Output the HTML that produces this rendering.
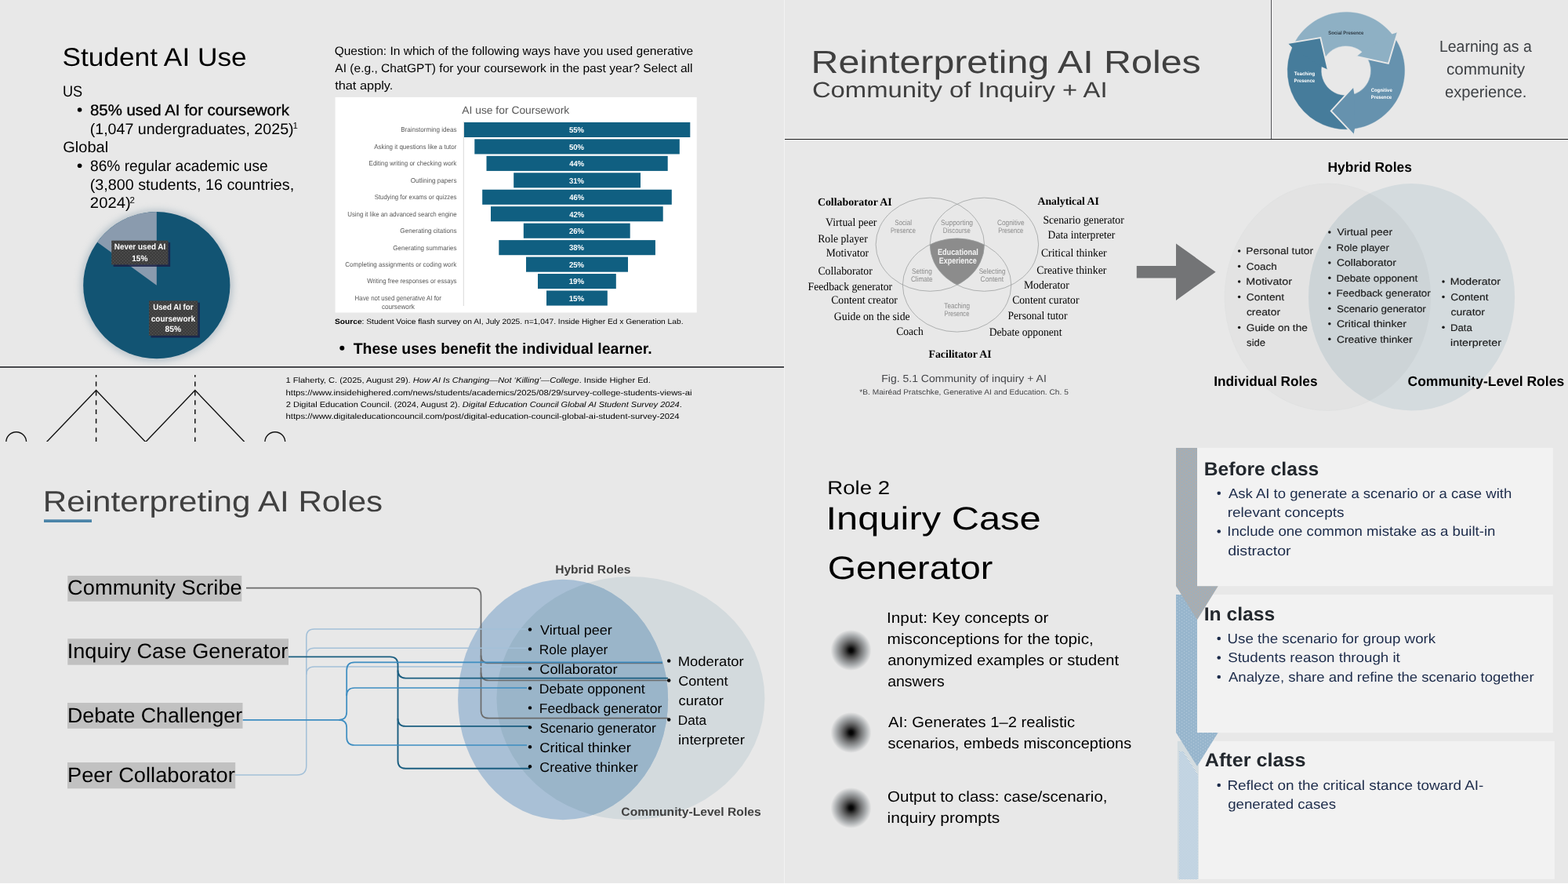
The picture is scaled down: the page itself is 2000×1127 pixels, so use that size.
<!DOCTYPE html>
<html lang="en">
<head>
<meta charset="utf-8">
<title>Reinterpreting AI Roles</title>
<style>
html,body{margin:0;padding:0;background:#fff;}
body{width:2000px;height:1127px;overflow:hidden;}
svg{display:block;will-change:transform;}
text{font-family:"Liberation Sans",sans-serif;white-space:pre;text-rendering:geometricPrecision;}
.serif{font-family:"Liberation Serif",serif;}
.b{font-weight:700;}
.i{font-style:italic;}
</style>
</head>
<body>
<svg width="2000" height="1127" viewBox="0 0 2000 1127">
<defs>
<filter id="pieshadow" x="-20%" y="-20%" width="140%" height="140%"><feGaussianBlur stdDeviation="4"/></filter>
<radialGradient id="dot" cx="50%" cy="50%" r="50%"><stop offset="0" stop-color="#000"/><stop offset="0.1" stop-color="#080808"/><stop offset="0.3" stop-color="#454545"/><stop offset="0.5" stop-color="#777879"/><stop offset="0.75" stop-color="#adb0b2"/><stop offset="1" stop-color="#e8e8e8"/></radialGradient>
<pattern id="dots1" patternUnits="userSpaceOnUse" width="6" height="4"><rect width="6" height="4" fill="#a8adb1"/><rect x="1" y="0" width="1" height="1" fill="#8fb1cb"/><rect x="4" y="2" width="1" height="1" fill="#8fb1cb"/></pattern>
<pattern id="dots2" patternUnits="userSpaceOnUse" width="6" height="4"><rect width="6" height="4" fill="#98b6cd"/><rect x="1" y="0" width="1" height="1" fill="#b4cadb"/><rect x="4" y="2" width="1" height="1" fill="#b4cadb"/></pattern>
<pattern id="chk" patternUnits="userSpaceOnUse" width="2" height="2"><rect width="2" height="2" fill="#f1f3f4"/><rect x="0" y="0" width="1" height="1" fill="#94b5d0"/><rect x="1" y="1" width="1" height="1" fill="#94b5d0"/></pattern>
<pattern id="lbl" patternUnits="userSpaceOnUse" width="4" height="4"><rect width="4" height="4" fill="#3f3f3f"/><rect x="0" y="0" width="1" height="1" fill="#595959"/><rect x="2" y="2" width="1" height="1" fill="#595959"/></pattern>
<clipPath id="clipL"><ellipse cx="1186.3" cy="311.7" rx="69.2" ry="59.6"/></clipPath>
<clipPath id="clipR"><ellipse cx="1255.4" cy="311.7" rx="69.2" ry="59.6"/></clipPath>
</defs>
<rect x="0" y="0" width="2000" height="1126" fill="#e8e8e8"/>
<rect x="1000" y="0" width="1" height="1126" fill="#f3f3f3"/>
<!-- s1 -->
<g id="s1">
<text x="79.4" y="84.2" font-size="32.8" textLength="235.37" lengthAdjust="spacingAndGlyphs" fill="#000">Student AI Use</text>
<text x="79.9" y="123.3" font-size="19.5" textLength="25.24" lengthAdjust="spacingAndGlyphs" fill="#000">US</text>
<circle cx="101.6" cy="140" r="2.8" fill="#000"/>
<text x="115.01" y="147" font-size="19.5" textLength="253.86" lengthAdjust="spacingAndGlyphs" fill="#000" stroke="#000" stroke-width="0.35">85% used AI for coursework</text>
<text x="114.68" y="170.7" font-size="19.5" textLength="259.94" lengthAdjust="spacingAndGlyphs" fill="#000">(1,047 undergraduates, 2025)</text>
<text x="373.42" y="163.6" font-size="11.5" fill="#000">1</text>
<text x="80.29" y="194.2" font-size="19.5" textLength="57.85" lengthAdjust="spacingAndGlyphs" fill="#000">Global</text>
<circle cx="101.6" cy="211.2" r="2.8" fill="#000"/>
<text x="115.07" y="218" font-size="19.5" textLength="226.68" lengthAdjust="spacingAndGlyphs" fill="#000">86% regular academic use</text>
<text x="114.67" y="241.5" font-size="19.5" textLength="260.5" lengthAdjust="spacingAndGlyphs" fill="#000">(3,800 students, 16 countries,</text>
<text x="114.88" y="265" font-size="19.5" textLength="51.77" lengthAdjust="spacingAndGlyphs" fill="#000">2024)</text>
<text x="165.62" y="258.5" font-size="11.5" fill="#000">2</text>
<circle cx="199.8" cy="364.2" r="97.1" fill="#8fa3b0" opacity="0.5" filter="url(#pieshadow)"/>
<circle cx="199.8" cy="363.7" r="93.6" fill="#125473"/>
<path d="M199.8 363.7 L199.8 270.1 A93.6 93.6 0 0 0 124.08 308.68 Z" fill="#8a9bae"/>
<rect x="144.6" y="309.1" width="72.5" height="30.9" fill="#1b2146" opacity="0.85"/>
<rect x="142.2" y="306.7" width="72.3" height="30.7" fill="url(#lbl)" />
<text x="145.84" y="318.2" font-size="10.7" textLength="65.32" lengthAdjust="spacingAndGlyphs" font-weight="700" fill="#fff">Never used AI</text>
<text x="168.26" y="333.3" font-size="10.7" textLength="20.2" lengthAdjust="spacingAndGlyphs" font-weight="700" fill="#fff">15%</text>
<rect x="192.4" y="385.8" width="62.5" height="44.7" fill="#1b2146" opacity="0.85"/>
<rect x="190" y="383.4" width="62.3" height="44.5" fill="url(#lbl)" />
<text x="195.22" y="394.9" font-size="10.7" textLength="51.33" lengthAdjust="spacingAndGlyphs" font-weight="700" fill="#fff">Used AI for</text>
<text x="192.81" y="409.6" font-size="10.7" textLength="56.18" lengthAdjust="spacingAndGlyphs" font-weight="700" fill="#fff">coursework</text>
<text x="210.58" y="423.3" font-size="10.7" textLength="20.49" lengthAdjust="spacingAndGlyphs" font-weight="700" fill="#fff">85%</text>
<text x="426.66" y="70" font-size="15.1" textLength="457.43" lengthAdjust="spacingAndGlyphs" fill="#000">Question: In which of the following ways have you used generative</text>
<text x="427.37" y="92" font-size="15.1" textLength="456.07" lengthAdjust="spacingAndGlyphs" fill="#000">AI (e.g., ChatGPT) for your coursework in the past year? Select all</text>
<text x="427.15" y="114.2" font-size="15.1" textLength="74.24" lengthAdjust="spacingAndGlyphs" fill="#000">that apply.</text>
<rect x="427.6" y="123.9" width="461.1" height="274.6" fill="#fff" />
<text x="589.27" y="144.8" font-size="13.6" textLength="137.01" lengthAdjust="spacingAndGlyphs" fill="#595959">AI use for Coursework</text>
<line x1="591.3" y1="155" x2="591.3" y2="390" stroke="#d9d9d9" stroke-width="1" />
<rect x="592" y="155.9" width="288.3" height="19.1" fill="#105f81" />
<text x="726.01" y="169.2" font-size="10" textLength="19.04" lengthAdjust="spacingAndGlyphs" font-weight="700" fill="#fff">55%</text>
<text x="511.19" y="168.3" font-size="8.6" textLength="71.35" lengthAdjust="spacingAndGlyphs" fill="#595959">Brainstorming ideas</text>
<rect x="605.3" y="177.36" width="261.5" height="19.1" fill="#105f81" />
<text x="726.01" y="190.66" font-size="10" textLength="19.04" lengthAdjust="spacingAndGlyphs" font-weight="700" fill="#fff">50%</text>
<text x="477.13" y="189.76" font-size="8.6" textLength="105.25" lengthAdjust="spacingAndGlyphs" fill="#595959">Asking it questions like a tutor</text>
<rect x="620.5" y="198.82" width="231.2" height="19.1" fill="#105f81" />
<text x="726.16" y="212.12" font-size="10" textLength="18.89" lengthAdjust="spacingAndGlyphs" font-weight="700" fill="#fff">44%</text>
<text x="470.6" y="211.22" font-size="8.6" textLength="111.64" lengthAdjust="spacingAndGlyphs" fill="#595959">Editing writing or checking work</text>
<rect x="655.2" y="220.28" width="161.8" height="19.1" fill="#105f81" />
<text x="726.08" y="233.58" font-size="10" textLength="18.97" lengthAdjust="spacingAndGlyphs" font-weight="700" fill="#fff">31%</text>
<text x="523.67" y="232.68" font-size="8.6" textLength="58.88" lengthAdjust="spacingAndGlyphs" fill="#595959">Outlining papers</text>
<rect x="615.2" y="241.74" width="241.6" height="19.1" fill="#105f81" />
<text x="726.16" y="255.04" font-size="10" textLength="18.89" lengthAdjust="spacingAndGlyphs" font-weight="700" fill="#fff">46%</text>
<text x="477.69" y="254.14" font-size="8.6" textLength="104.84" lengthAdjust="spacingAndGlyphs" fill="#595959">Studying for exams or quizzes</text>
<rect x="626" y="263.2" width="219.7" height="19.1" fill="#105f81" />
<text x="726.16" y="276.5" font-size="10" textLength="18.89" lengthAdjust="spacingAndGlyphs" font-weight="700" fill="#fff">42%</text>
<text x="443.24" y="275.6" font-size="8.6" textLength="139.36" lengthAdjust="spacingAndGlyphs" fill="#595959">Using it like an advanced search engine</text>
<rect x="667.8" y="284.66" width="135.9" height="19.1" fill="#105f81" />
<text x="725.97" y="297.96" font-size="10" textLength="19.08" lengthAdjust="spacingAndGlyphs" font-weight="700" fill="#fff">26%</text>
<text x="510.34" y="297.06" font-size="8.6" textLength="72.2" lengthAdjust="spacingAndGlyphs" fill="#595959">Generating citations</text>
<rect x="636.3" y="306.12" width="199.6" height="19.1" fill="#105f81" />
<text x="726.08" y="319.42" font-size="10" textLength="18.97" lengthAdjust="spacingAndGlyphs" font-weight="700" fill="#fff">38%</text>
<text x="501.35" y="318.52" font-size="8.6" textLength="81.19" lengthAdjust="spacingAndGlyphs" fill="#595959">Generating summaries</text>
<rect x="671" y="327.58" width="130" height="19.1" fill="#105f81" />
<text x="725.97" y="340.88" font-size="10" textLength="19.08" lengthAdjust="spacingAndGlyphs" font-weight="700" fill="#fff">25%</text>
<text x="440.34" y="339.98" font-size="8.6" textLength="141.89" lengthAdjust="spacingAndGlyphs" fill="#595959">Completing assignments or coding work</text>
<rect x="686" y="349.04" width="99.8" height="19.1" fill="#105f81" />
<text x="725.69" y="362.34" font-size="10" textLength="19.36" lengthAdjust="spacingAndGlyphs" font-weight="700" fill="#fff">19%</text>
<text x="468.22" y="361.44" font-size="8.6" textLength="114.32" lengthAdjust="spacingAndGlyphs" fill="#595959">Writing free responses or essays</text>
<rect x="697" y="370.5" width="77.8" height="19.1" fill="#105f81" />
<text x="725.69" y="383.8" font-size="10" textLength="19.36" lengthAdjust="spacingAndGlyphs" font-weight="700" fill="#fff">15%</text>
<text x="452.6" y="382.8" font-size="8.8" textLength="110.28" lengthAdjust="spacingAndGlyphs" fill="#595959">Have not used generative AI for</text>
<text x="486.9" y="393.8" font-size="8.8" textLength="41.84" lengthAdjust="spacingAndGlyphs" fill="#595959">coursework</text>
<text x="426.94" y="413.4" font-size="9.4" textLength="444.6" lengthAdjust="spacingAndGlyphs" fill="#000"><tspan font-weight="700">Source</tspan>: Student Voice flash survey on AI, July 2025. n=1,047. Inside Higher Ed x Generation Lab.</text>
<circle cx="436.3" cy="443.7" r="3" fill="#000"/>
<text x="450.68" y="450.5" font-size="19.5" textLength="380.96" lengthAdjust="spacingAndGlyphs" font-weight="700" fill="#000">These uses benefit the individual learner.</text>
<rect x="0" y="466" width="1000" height="4" fill="#eeeeee" />
<rect x="0" y="467" width="1000" height="2" fill="#46474b" />
<clipPath id="s1clip"><rect x="0" y="0" width="1000" height="563"/></clipPath>
<g clip-path="url(#s1clip)"><path d="M58 565 L122.6 497.6 L185.7 563.5 L248.8 497.6 L313.4 565" fill="none" stroke="#111" stroke-width="1.4" stroke-linejoin="miter"/><line x1="122.6" y1="478" x2="122.6" y2="563" stroke="#111" stroke-width="1.5" stroke-dasharray="6 5.8" stroke-dashoffset="3.2"/><line x1="248.8" y1="478" x2="248.8" y2="563" stroke="#111" stroke-width="1.5" stroke-dasharray="6 5.8" stroke-dashoffset="3.2"/><circle cx="20.7" cy="563.6" r="12.9" fill="none" stroke="#111" stroke-width="1.4"/><circle cx="350.8" cy="563.6" r="12.9" fill="none" stroke="#111" stroke-width="1.4"/></g>
<text x="364.46" y="488.3" font-size="10" textLength="465.35" lengthAdjust="spacingAndGlyphs" fill="#000">1 Flaherty, C. (2025, August 29). <tspan class="i">How AI Is Changing—Not ‘Killing’—College</tspan>. Inside Higher Ed.</text>
<text x="364.52" y="503.7" font-size="10" textLength="518.04" lengthAdjust="spacingAndGlyphs" fill="#000">https://www.insidehighered.com/news/students/academics/2025/08/29/survey-college-students-views-ai</text>
<text x="364.75" y="519" font-size="10" textLength="505.06" lengthAdjust="spacingAndGlyphs" fill="#000">2 Digital Education Council. (2024, August 2). <tspan class="i">Digital Education Council Global AI Student Survey 2024</tspan>.</text>
<text x="364.52" y="534.4" font-size="10" textLength="502.12" lengthAdjust="spacingAndGlyphs" fill="#000">https://www.digitaleducationcouncil.com/post/digital-education-council-global-ai-student-survey-2024</text>
</g>
<!-- s2 -->
<g id="s2">
<text x="1034.53" y="93.3" font-size="40.8" textLength="497.21" lengthAdjust="spacingAndGlyphs" fill="#404040">Reinterpreting AI Roles</text>
<text x="1035.93" y="123.7" font-size="27.9" textLength="376.59" lengthAdjust="spacingAndGlyphs" fill="#404040">Community of Inquiry + AI</text>
<rect x="1001" y="176" width="999" height="1" fill="#f8f8f8" />
<rect x="1001" y="178" width="999" height="1" fill="#e3e4e6" />
<rect x="1620" y="0" width="3" height="176" fill="#f0f0f0" />
<rect x="1001" y="177" width="999" height="1" fill="#1a1a1a" />
<rect x="1621" y="0" width="1" height="177" fill="#4e4e53" />
<path d="M1648.91 59.19 A74.7 74.7 0 0 1 1776.32 44.83 L1738.67 67.06 A31.7 31.7 0 0 0 1685.88 83.58 Z" fill="#8eb0c4" stroke="#8eb0c4" stroke-width="0.4"/>
<path d="M1776.32 44.83 A74.7 74.7 0 0 1 1726.40 164.19 L1725.97 120.48 A31.7 31.7 0 0 0 1738.67 67.06 Z" fill="#6692ae" stroke="#6692ae" stroke-width="0.4"/>
<path d="M1726.40 164.19 A74.7 74.7 0 0 1 1648.91 59.19 L1685.88 83.58 A31.7 31.7 0 0 0 1725.97 120.48 Z" fill="#467c9b" stroke="#467c9b" stroke-width="0.4"/>
<path d="M1782.80 41.00 L1770.90 81.00 L1730.30 72.00 L1737.92 65.76 L1775.56 43.53 Z" fill="#8eb0c4"/>
<path d="M1782.80 41.00 L1770.90 81.00 L1730.30 72.00" fill="none" stroke="#e8e8e8" stroke-width="1.9" stroke-linejoin="miter" stroke-linecap="butt"/>
<path d="M1726.47 171.72 L1697.78 141.42 L1725.88 110.75 L1727.47 120.47 L1727.90 164.18 Z" fill="#6692ae"/>
<path d="M1726.47 171.72 L1697.78 141.42 L1725.88 110.75" fill="none" stroke="#e8e8e8" stroke-width="1.9" stroke-linejoin="miter" stroke-linecap="butt"/>
<path d="M1642.70 55.10 L1684.30 48.00 L1693.80 88.80 L1685.04 84.82 L1648.07 60.44 Z" fill="#467c9b"/>
<path d="M1642.70 55.10 L1684.30 48.00 L1693.80 88.80" fill="none" stroke="#e8e8e8" stroke-width="1.9" stroke-linejoin="miter" stroke-linecap="butt"/>
<text x="1694.33" y="43.7" font-size="6.4" textLength="44.97" lengthAdjust="spacingAndGlyphs" font-weight="700" fill="#2d3943">Social Presence</text>
<text x="1650.83" y="95.6" font-size="6.4" textLength="26.48" lengthAdjust="spacingAndGlyphs" font-weight="700" fill="#fff">Teaching</text>
<text x="1650.5" y="104.7" font-size="6.4" textLength="26.6" lengthAdjust="spacingAndGlyphs" font-weight="700" fill="#fff">Presence</text>
<text x="1748.66" y="116.9" font-size="6.4" textLength="27.05" lengthAdjust="spacingAndGlyphs" font-weight="700" fill="#fff">Cognitive</text>
<text x="1748.81" y="126.2" font-size="6.4" textLength="26.2" lengthAdjust="spacingAndGlyphs" font-weight="700" fill="#fff">Presence</text>
<text x="1836.01" y="65.6" font-size="20.4" textLength="117.79" lengthAdjust="spacingAndGlyphs" fill="#3d4044">Learning as a</text>
<text x="1845.02" y="94.5" font-size="20.4" textLength="100.02" lengthAdjust="spacingAndGlyphs" fill="#3d4044">community</text>
<text x="1843.04" y="123.5" font-size="20.4" textLength="104.3" lengthAdjust="spacingAndGlyphs" fill="#3d4044">experience.</text>
<g clip-path="url(#clipL)"><g clip-path="url(#clipR)"><ellipse cx="1220.6" cy="363.5" rx="69.2" ry="59.6" fill="#8c8c8c"/></g></g>
<ellipse cx="1186.3" cy="311.7" rx="69.2" ry="59.6" fill="none" stroke="#9a9c9c" stroke-width="0.75"/>
<ellipse cx="1255.4" cy="311.7" rx="69.2" ry="59.6" fill="none" stroke="#9a9c9c" stroke-width="0.75"/>
<ellipse cx="1220.6" cy="363.5" rx="69.2" ry="59.6" fill="none" stroke="#9a9c9c" stroke-width="0.75"/>
<text x="1141.13" y="286.9" font-size="9.6" textLength="21.9" lengthAdjust="spacingAndGlyphs" fill="#8c8c8c">Social</text>
<text x="1135.88" y="296.9" font-size="9.6" textLength="31.96" lengthAdjust="spacingAndGlyphs" fill="#8c8c8c">Presence</text>
<text x="1200.12" y="286.9" font-size="9.6" textLength="40.93" lengthAdjust="spacingAndGlyphs" fill="#8c8c8c">Supporting</text>
<text x="1202.85" y="296.9" font-size="9.6" textLength="35" lengthAdjust="spacingAndGlyphs" fill="#8c8c8c">Discourse</text>
<text x="1271.88" y="286.9" font-size="9.6" textLength="34.79" lengthAdjust="spacingAndGlyphs" fill="#8c8c8c">Cognitive</text>
<text x="1273.18" y="296.9" font-size="9.6" textLength="31.96" lengthAdjust="spacingAndGlyphs" fill="#8c8c8c">Presence</text>
<text x="1162.92" y="348.6" font-size="9.6" textLength="25.91" lengthAdjust="spacingAndGlyphs" fill="#8c8c8c">Setting</text>
<text x="1161.88" y="358.6" font-size="9.6" textLength="27.78" lengthAdjust="spacingAndGlyphs" fill="#8c8c8c">Climate</text>
<text x="1248.63" y="348.6" font-size="9.6" textLength="33.91" lengthAdjust="spacingAndGlyphs" fill="#8c8c8c">Selecting</text>
<text x="1250.57" y="358.6" font-size="9.6" textLength="29.49" lengthAdjust="spacingAndGlyphs" fill="#8c8c8c">Content</text>
<text x="1204.32" y="392.9" font-size="9.6" textLength="32.71" lengthAdjust="spacingAndGlyphs" fill="#8c8c8c">Teaching</text>
<text x="1204.38" y="403.4" font-size="9.6" textLength="31.96" lengthAdjust="spacingAndGlyphs" fill="#8c8c8c">Presence</text>
<text x="1195.89" y="324.9" font-size="11" textLength="51.96" lengthAdjust="spacingAndGlyphs" font-weight="700" fill="#f4f4f4">Educational</text>
<text x="1197.8" y="335.8" font-size="11" textLength="47.91" lengthAdjust="spacingAndGlyphs" font-weight="700" fill="#f4f4f4">Experience</text>
<text x="1042.92" y="261.7" font-size="14" textLength="94.74" lengthAdjust="spacingAndGlyphs" font-weight="700" fill="#000" class="serif">Collaborator AI</text>
<text x="1323.57" y="260.9" font-size="14" textLength="78.2" lengthAdjust="spacingAndGlyphs" font-weight="700" fill="#000" class="serif">Analytical AI</text>
<text x="1184.46" y="455.5" font-size="14" textLength="80.3" lengthAdjust="spacingAndGlyphs" font-weight="700" fill="#000" class="serif">Facilitator AI</text>
<text x="1053.05" y="287.9" font-size="14.5" textLength="65.28" lengthAdjust="spacingAndGlyphs" fill="#000" class="serif">Virtual peer</text>
<text x="1043.21" y="308.7" font-size="14.5" textLength="63.51" lengthAdjust="spacingAndGlyphs" fill="#000" class="serif">Role player</text>
<text x="1053.71" y="327.3" font-size="14.5" textLength="54.31" lengthAdjust="spacingAndGlyphs" fill="#000" class="serif">Motivator</text>
<text x="1043.44" y="350.4" font-size="14.5" textLength="69.38" lengthAdjust="spacingAndGlyphs" fill="#000" class="serif">Collaborator</text>
<text x="1030.61" y="369.6" font-size="14.5" textLength="107.51" lengthAdjust="spacingAndGlyphs" fill="#000" class="serif">Feedback generator</text>
<text x="1060.24" y="387" font-size="14.5" textLength="84.68" lengthAdjust="spacingAndGlyphs" fill="#000" class="serif">Content creator</text>
<text x="1063.83" y="407.8" font-size="14.5" textLength="96.84" lengthAdjust="spacingAndGlyphs" fill="#000" class="serif">Guide on the side</text>
<text x="1143.14" y="426.8" font-size="14.5" textLength="34.63" lengthAdjust="spacingAndGlyphs" fill="#000" class="serif">Coach</text>
<text x="1330.38" y="285.3" font-size="14.5" textLength="103.44" lengthAdjust="spacingAndGlyphs" fill="#000" class="serif">Scenario generator</text>
<text x="1336.61" y="303.9" font-size="14.5" textLength="85.71" lengthAdjust="spacingAndGlyphs" fill="#000" class="serif">Data interpreter</text>
<text x="1327.94" y="327.3" font-size="14.5" textLength="83.69" lengthAdjust="spacingAndGlyphs" fill="#000" class="serif">Critical thinker</text>
<text x="1322.24" y="348.6" font-size="14.5" textLength="89.09" lengthAdjust="spacingAndGlyphs" fill="#000" class="serif">Creative thinker</text>
<text x="1305.91" y="367.8" font-size="14.5" textLength="57.82" lengthAdjust="spacingAndGlyphs" fill="#000" class="serif">Moderator</text>
<text x="1291.14" y="387" font-size="14.5" textLength="85.38" lengthAdjust="spacingAndGlyphs" fill="#000" class="serif">Content curator</text>
<text x="1285.51" y="407.2" font-size="14.5" textLength="75.91" lengthAdjust="spacingAndGlyphs" fill="#000" class="serif">Personal tutor</text>
<text x="1261.71" y="427.8" font-size="14.5" textLength="92.77" lengthAdjust="spacingAndGlyphs" fill="#000" class="serif">Debate opponent</text>
<text x="1124.25" y="487.2" font-size="13.2" textLength="210.54" lengthAdjust="spacingAndGlyphs" fill="#45464a">Fig. 5.1 Community of inquiry + AI</text>
<text x="1096.34" y="503" font-size="9.6" textLength="266.49" lengthAdjust="spacingAndGlyphs" fill="#444548">*B. Mairéad Pratschke, Generative AI and Education. Ch. 5</text>
<path d="M1449.8 338.9 L1500 338.9 L1500 310.5 L1550.6 346.7 L1500 383 L1500 354.5 L1449.8 354.5 Z" fill="#737476"/>
<clipPath id="v2r"><ellipse cx="1800.6" cy="378.8" rx="131.5" ry="144.7"/></clipPath>
<ellipse cx="1693.6" cy="378.8" rx="131.5" ry="144.7" fill="#e3e3e3" stroke="#dedfdf" stroke-width="0.6"/>
<ellipse cx="1800.6" cy="378.8" rx="131.5" ry="144.7" fill="#d4dbde"/>
<ellipse cx="1693.6" cy="378.8" rx="131.5" ry="144.7" fill="#cdd4d7" clip-path="url(#v2r)"/>
<circle cx="1580.6" cy="320.1" r="1.75" fill="#1a1a1a"/>
<text x="1589.37" y="324.3" font-size="12.4" textLength="85.76" lengthAdjust="spacingAndGlyphs" fill="#1a1a1a" stroke="#1a1a1a" stroke-width="0.15">Personal tutor</text>
<circle cx="1580.6" cy="339.59" r="1.75" fill="#1a1a1a"/>
<text x="1589.82" y="343.79" font-size="12.4" textLength="38.96" lengthAdjust="spacingAndGlyphs" fill="#1a1a1a" stroke="#1a1a1a" stroke-width="0.15">Coach</text>
<circle cx="1580.6" cy="359.08" r="1.75" fill="#1a1a1a"/>
<text x="1589.33" y="363.28" font-size="12.4" textLength="58.71" lengthAdjust="spacingAndGlyphs" fill="#1a1a1a" stroke="#1a1a1a" stroke-width="0.15">Motivator</text>
<circle cx="1580.6" cy="378.57" r="1.75" fill="#1a1a1a"/>
<text x="1589.8" y="382.77" font-size="12.4" textLength="48.3" lengthAdjust="spacingAndGlyphs" fill="#1a1a1a" stroke="#1a1a1a" stroke-width="0.15">Content</text>
<text x="1589.91" y="402.26" font-size="12.4" textLength="43.12" lengthAdjust="spacingAndGlyphs" fill="#1a1a1a" stroke="#1a1a1a" stroke-width="0.15">creator</text>
<circle cx="1580.6" cy="417.55" r="1.75" fill="#1a1a1a"/>
<text x="1589.82" y="421.75" font-size="12.4" textLength="77.99" lengthAdjust="spacingAndGlyphs" fill="#1a1a1a" stroke="#1a1a1a" stroke-width="0.15">Guide on the</text>
<text x="1590.14" y="441.24" font-size="12.4" textLength="23.94" lengthAdjust="spacingAndGlyphs" fill="#1a1a1a" stroke="#1a1a1a" stroke-width="0.15">side</text>
<circle cx="1695.8" cy="295.9" r="1.75" fill="#1a1a1a"/>
<text x="1705.64" y="300.1" font-size="12.4" textLength="70.39" lengthAdjust="spacingAndGlyphs" fill="#1a1a1a" stroke="#1a1a1a" stroke-width="0.15">Virtual peer</text>
<circle cx="1695.8" cy="315.39" r="1.75" fill="#1a1a1a"/>
<text x="1704.61" y="319.59" font-size="12.4" textLength="67.21" lengthAdjust="spacingAndGlyphs" fill="#1a1a1a" stroke="#1a1a1a" stroke-width="0.15">Role player</text>
<circle cx="1695.8" cy="334.88" r="1.75" fill="#1a1a1a"/>
<text x="1704.99" y="339.08" font-size="12.4" textLength="75.94" lengthAdjust="spacingAndGlyphs" fill="#1a1a1a" stroke="#1a1a1a" stroke-width="0.15">Collaborator</text>
<circle cx="1695.8" cy="354.37" r="1.75" fill="#1a1a1a"/>
<text x="1704.59" y="358.57" font-size="12.4" textLength="103.61" lengthAdjust="spacingAndGlyphs" fill="#1a1a1a" stroke="#1a1a1a" stroke-width="0.15">Debate opponent</text>
<circle cx="1695.8" cy="373.86" r="1.75" fill="#1a1a1a"/>
<text x="1704.6" y="378.06" font-size="12.4" textLength="120.22" lengthAdjust="spacingAndGlyphs" fill="#1a1a1a" stroke="#1a1a1a" stroke-width="0.15">Feedback generator</text>
<circle cx="1695.8" cy="393.35" r="1.75" fill="#1a1a1a"/>
<text x="1705.09" y="397.55" font-size="12.4" textLength="113.73" lengthAdjust="spacingAndGlyphs" fill="#1a1a1a" stroke="#1a1a1a" stroke-width="0.15">Scenario generator</text>
<circle cx="1695.8" cy="412.84" r="1.75" fill="#1a1a1a"/>
<text x="1704.99" y="417.04" font-size="12.4" textLength="88.95" lengthAdjust="spacingAndGlyphs" fill="#1a1a1a" stroke="#1a1a1a" stroke-width="0.15">Critical thinker</text>
<circle cx="1695.8" cy="432.33" r="1.75" fill="#1a1a1a"/>
<text x="1705" y="436.53" font-size="12.4" textLength="96.53" lengthAdjust="spacingAndGlyphs" fill="#1a1a1a" stroke="#1a1a1a" stroke-width="0.15">Creative thinker</text>
<circle cx="1841" cy="358.9" r="1.75" fill="#1a1a1a"/>
<text x="1849.85" y="363.1" font-size="12.4" textLength="64.09" lengthAdjust="spacingAndGlyphs" fill="#1a1a1a" stroke="#1a1a1a" stroke-width="0.15">Moderator</text>
<circle cx="1841" cy="378.39" r="1.75" fill="#1a1a1a"/>
<text x="1850.3" y="382.59" font-size="12.4" textLength="48.2" lengthAdjust="spacingAndGlyphs" fill="#1a1a1a" stroke="#1a1a1a" stroke-width="0.15">Content</text>
<text x="1850.4" y="402.08" font-size="12.4" textLength="43.63" lengthAdjust="spacingAndGlyphs" fill="#1a1a1a" stroke="#1a1a1a" stroke-width="0.15">curator</text>
<circle cx="1841" cy="417.37" r="1.75" fill="#1a1a1a"/>
<text x="1849.91" y="421.57" font-size="12.4" textLength="27.99" lengthAdjust="spacingAndGlyphs" fill="#1a1a1a" stroke="#1a1a1a" stroke-width="0.15">Data</text>
<text x="1850.05" y="441.06" font-size="12.4" textLength="64.89" lengthAdjust="spacingAndGlyphs" fill="#1a1a1a" stroke="#1a1a1a" stroke-width="0.15">interpreter</text>
<text x="1693.54" y="218.8" font-size="17.6" textLength="107.38" lengthAdjust="spacingAndGlyphs" font-weight="700" fill="#000">Hybrid Roles</text>
<text x="1548.25" y="492.3" font-size="17.6" textLength="132.26" lengthAdjust="spacingAndGlyphs" font-weight="700" fill="#000">Individual Roles</text>
<text x="1795.48" y="492.3" font-size="17.6" textLength="199.74" lengthAdjust="spacingAndGlyphs" font-weight="700" fill="#000">Community-Level Roles</text>
</g>
<!-- s3 -->
<g id="s3">
<text x="54.74" y="652.4" font-size="37.3" textLength="433.48" lengthAdjust="spacingAndGlyphs" fill="#404040">Reinterpreting AI Roles</text>
<rect x="56" y="662.3" width="61" height="3.7" fill="#4a84a8" />
<clipPath id="v3r"><ellipse cx="804.4" cy="890.2" rx="171" ry="155.1"/></clipPath>
<ellipse cx="804.4" cy="890.2" rx="171" ry="155.1" fill="#d3dadd"/>
<ellipse cx="718.1" cy="892" rx="134" ry="153.3" fill="#a9c0d6"/>
<ellipse cx="718.1" cy="892" rx="134" ry="153.3" fill="#9ab5c9" clip-path="url(#v3r)"/>
<path d="M314 749.6 H603.5 Q613.5 749.6 613.5 759.6 V905.7 Q613.5 915.7 623.5 915.7 H852" fill="none" stroke="#6b6b6b" stroke-width="1.7"/>
<path d="M613.5 835.5 Q613.5 845.5 623.5 845.5 H845" fill="none" stroke="#6b6b6b" stroke-width="1.7"/>
<path d="M613.5 857.5 Q613.5 867.5 623.5 867.5 H852" fill="none" stroke="#6b6b6b" stroke-width="1.7"/>
<path d="M300 987.9 H378.8 Q390.8 987.9 390.8 975.9 V812.1 Q390.8 802.1 400.8 802.1 H672" fill="none" stroke="#a3c0d8" stroke-width="1.5"/>
<path d="M390.8 836.2 Q390.8 826.2 400.8 826.2 H672" fill="none" stroke="#a3c0d8" stroke-width="1.5"/>
<path d="M390.8 860 Q390.8 850 400.8 850 H672" fill="none" stroke="#a3c0d8" stroke-width="1.5"/>
<path d="M367.5 837.4 H497.5 Q507.5 837.4 507.5 847.4 V969.8 Q507.5 979.8 517.5 979.8 H676" fill="none" stroke="#1b5e80" stroke-width="1.9"/>
<path d="M507.5 854.6 Q507.5 864.6 517.5 864.6 H852" fill="none" stroke="#1b5e80" stroke-width="1.9"/>
<path d="M507.5 915.9 Q507.5 925.9 517.5 925.9 H676" fill="none" stroke="#1b5e80" stroke-width="1.9"/>
<path d="M309.5 917.8 H432.2 Q442.2 917.8 442.2 907.8 V854.4 Q442.2 844.4 452.2 844.4 H845" fill="none" stroke="#3d8dc1" stroke-width="1.7"/>
<path d="M432.2 917.8 Q442.2 917.8 442.2 927.8 V940 Q442.2 950 452.2 950 H672" fill="none" stroke="#3d8dc1" stroke-width="1.7"/>
<path d="M442.2 887 Q442.2 877 452.2 877 H672" fill="none" stroke="#3d8dc1" stroke-width="1.7"/>
<rect x="86.3" y="734" width="222" height="32.7" fill="#c1c1c1" />
<text x="86.12" y="758.3" font-size="26.6" textLength="222.59" lengthAdjust="spacingAndGlyphs" fill="#000">Community Scribe</text>
<rect x="86.3" y="814.25" width="281.7" height="33.45" fill="#c1c1c1" />
<text x="85.75" y="839.3" font-size="26.6" textLength="281.5" lengthAdjust="spacingAndGlyphs" fill="#000">Inquiry Case Generator</text>
<rect x="86" y="896" width="223.5" height="32.8" fill="#c1c1c1" />
<text x="86.06" y="921" font-size="26.6" textLength="223.09" lengthAdjust="spacingAndGlyphs" fill="#000">Debate Challenger</text>
<rect x="86" y="972" width="214.2" height="33.3" fill="#c1c1c1" />
<text x="86.01" y="997.2" font-size="26.6" textLength="213.74" lengthAdjust="spacingAndGlyphs" fill="#000">Peer Collaborator</text>
<text x="708.16" y="731.2" font-size="15" textLength="96.18" lengthAdjust="spacingAndGlyphs" font-weight="700" fill="#404040">Hybrid Roles</text>
<text x="792.36" y="1039.5" font-size="15" textLength="178.28" lengthAdjust="spacingAndGlyphs" font-weight="700" fill="#404040">Community-Level Roles</text>
<circle cx="676" cy="802.5" r="2.2" fill="#000"/>
<text x="689.12" y="808.8" font-size="17.2" textLength="91.58" lengthAdjust="spacingAndGlyphs" fill="#000">Virtual peer</text>
<circle cx="676" cy="827.47" r="2.2" fill="#000"/>
<text x="687.78" y="833.77" font-size="17.2" textLength="87.51" lengthAdjust="spacingAndGlyphs" fill="#000">Role player</text>
<circle cx="676" cy="852.44" r="2.2" fill="#000"/>
<text x="688.27" y="858.74" font-size="17.2" textLength="99.23" lengthAdjust="spacingAndGlyphs" fill="#000">Collaborator</text>
<circle cx="676" cy="877.41" r="2.2" fill="#000"/>
<text x="687.76" y="883.71" font-size="17.2" textLength="134.87" lengthAdjust="spacingAndGlyphs" fill="#000">Debate opponent</text>
<circle cx="676" cy="902.38" r="2.2" fill="#000"/>
<text x="687.77" y="908.68" font-size="17.2" textLength="156.52" lengthAdjust="spacingAndGlyphs" fill="#000">Feedback generator</text>
<circle cx="676" cy="927.35" r="2.2" fill="#000"/>
<text x="688.41" y="933.65" font-size="17.2" textLength="148.28" lengthAdjust="spacingAndGlyphs" fill="#000">Scenario generator</text>
<circle cx="676" cy="952.32" r="2.2" fill="#000"/>
<text x="688.27" y="958.62" font-size="17.2" textLength="116.64" lengthAdjust="spacingAndGlyphs" fill="#000">Critical thinker</text>
<circle cx="676" cy="977.29" r="2.2" fill="#000"/>
<text x="688.29" y="983.59" font-size="17.2" textLength="125.41" lengthAdjust="spacingAndGlyphs" fill="#000">Creative thinker</text>
<circle cx="853.2" cy="842.5" r="2.2" fill="#000"/>
<text x="864.69" y="848.8" font-size="17.2" textLength="84.02" lengthAdjust="spacingAndGlyphs" fill="#000">Moderator</text>
<circle cx="853.2" cy="867.5" r="2.2" fill="#000"/>
<text x="865.28" y="873.8" font-size="17.2" textLength="63.25" lengthAdjust="spacingAndGlyphs" fill="#000">Content</text>
<text x="865.42" y="898.8" font-size="17.2" textLength="57.49" lengthAdjust="spacingAndGlyphs" fill="#000">curator</text>
<circle cx="853.2" cy="917.5" r="2.2" fill="#000"/>
<text x="864.79" y="923.8" font-size="17.2" textLength="36.31" lengthAdjust="spacingAndGlyphs" fill="#000">Data</text>
<text x="864.95" y="948.8" font-size="17.2" textLength="84.96" lengthAdjust="spacingAndGlyphs" fill="#000">interpreter</text>
</g>
<!-- s4 -->
<g id="s4">
<text x="1055.23" y="629.5" font-size="24.1" textLength="79.96" lengthAdjust="spacingAndGlyphs" fill="#000">Role 2</text>
<text x="1053.49" y="674.75" font-size="41.2" textLength="274.18" lengthAdjust="spacingAndGlyphs" fill="#000">Inquiry Case</text>
<text x="1055.65" y="737.75" font-size="41.2" textLength="210.63" lengthAdjust="spacingAndGlyphs" fill="#000">Generator</text>
<circle cx="1085.5" cy="829" r="26" fill="url(#dot)"/>
<circle cx="1085.5" cy="934" r="26" fill="url(#dot)"/>
<circle cx="1085.5" cy="1030" r="26" fill="url(#dot)"/>
<text x="1131.09" y="794" font-size="19" textLength="206.26" lengthAdjust="spacingAndGlyphs" fill="#000">Input: Key concepts or</text>
<text x="1131.62" y="821" font-size="19" textLength="263.25" lengthAdjust="spacingAndGlyphs" fill="#000">misconceptions for the topic,</text>
<text x="1132.15" y="847.6" font-size="19" textLength="295" lengthAdjust="spacingAndGlyphs" fill="#000">anonymized examples or student</text>
<text x="1132.17" y="875" font-size="19" textLength="72.53" lengthAdjust="spacingAndGlyphs" fill="#000">answers</text>
<text x="1132.96" y="927.4" font-size="19" textLength="238.17" lengthAdjust="spacingAndGlyphs" fill="#000">AI: Generates 1–2 realistic</text>
<text x="1132.44" y="954.4" font-size="19" textLength="310.68" lengthAdjust="spacingAndGlyphs" fill="#000">scenarios, embeds misconceptions</text>
<text x="1132.03" y="1022.2" font-size="19" textLength="280.51" lengthAdjust="spacingAndGlyphs" fill="#000">Output to class: case/scenario,</text>
<text x="1131.59" y="1049" font-size="19" textLength="143.67" lengthAdjust="spacingAndGlyphs" fill="#000">inquiry prompts</text>
<rect x="1527" y="570.9" width="453.8" height="176.3" fill="#f2f2f2" />
<rect x="1527" y="758" width="453.8" height="176.1" fill="#f2f2f2" />
<rect x="1501.8" y="944.8" width="481.1" height="176" fill="#f2f2f2" />
<rect x="1501.8" y="944.8" width="27" height="176" fill="#d3dce0" />
<path d="M1504 958 L1509 958 L1528 988 V1121 H1504 Z" fill="url(#chk)"/>
<path d="M1500 758 H1527 V934.1 H1553.7 L1527 976.8 L1500 934.1 Z" fill="url(#dots2)"/>
<path d="M1500 570.9 H1527 V747.2 H1553.7 L1527 790.2 L1500 747.2 Z" fill="url(#dots1)"/>
<text x="1535.75" y="605.7" font-size="24" textLength="146.56" lengthAdjust="spacingAndGlyphs" font-weight="700" fill="#23282e">Before class</text>
<circle cx="1554.75" cy="628.7" r="2.3" fill="#1c2b4a"/>
<text x="1566.96" y="634.6" font-size="17.3" textLength="361.24" lengthAdjust="spacingAndGlyphs" fill="#1c2b4a">Ask AI to generate a scenario or a case with</text>
<text x="1565.74" y="659" font-size="17.3" textLength="148.75" lengthAdjust="spacingAndGlyphs" fill="#1c2b4a">relevant concepts</text>
<circle cx="1554.75" cy="677.5" r="2.3" fill="#1c2b4a"/>
<text x="1565.28" y="683.4" font-size="17.3" textLength="342.12" lengthAdjust="spacingAndGlyphs" fill="#1c2b4a">Include one common mistake as a built-in</text>
<text x="1566.18" y="707.8" font-size="17.3" textLength="80.34" lengthAdjust="spacingAndGlyphs" fill="#1c2b4a">distractor</text>
<text x="1535.75" y="790.9" font-size="24" textLength="90.46" lengthAdjust="spacingAndGlyphs" font-weight="700" fill="#23282e">In class</text>
<circle cx="1554.75" cy="814" r="2.3" fill="#1c2b4a"/>
<text x="1565.55" y="819.9" font-size="17.3" textLength="265.62" lengthAdjust="spacingAndGlyphs" fill="#1c2b4a">Use the scenario for group work</text>
<circle cx="1554.75" cy="838.5" r="2.3" fill="#1c2b4a"/>
<text x="1566.15" y="844.4" font-size="17.3" textLength="219.69" lengthAdjust="spacingAndGlyphs" fill="#1c2b4a">Students reason through it</text>
<circle cx="1554.75" cy="863" r="2.3" fill="#1c2b4a"/>
<text x="1566.96" y="868.9" font-size="17.3" textLength="389.64" lengthAdjust="spacingAndGlyphs" fill="#1c2b4a">Analyze, share and refine the scenario together</text>
<text x="1536.77" y="977.4" font-size="24" textLength="128.86" lengthAdjust="spacingAndGlyphs" font-weight="700" fill="#23282e">After class</text>
<circle cx="1554.75" cy="1001" r="2.3" fill="#1c2b4a"/>
<text x="1565.45" y="1006.9" font-size="17.3" textLength="326.89" lengthAdjust="spacingAndGlyphs" fill="#1c2b4a">Reflect on the critical stance toward AI-</text>
<text x="1566.22" y="1031.3" font-size="17.3" textLength="137.76" lengthAdjust="spacingAndGlyphs" fill="#1c2b4a">generated cases</text>
</g>
</svg>
</body>
</html>
